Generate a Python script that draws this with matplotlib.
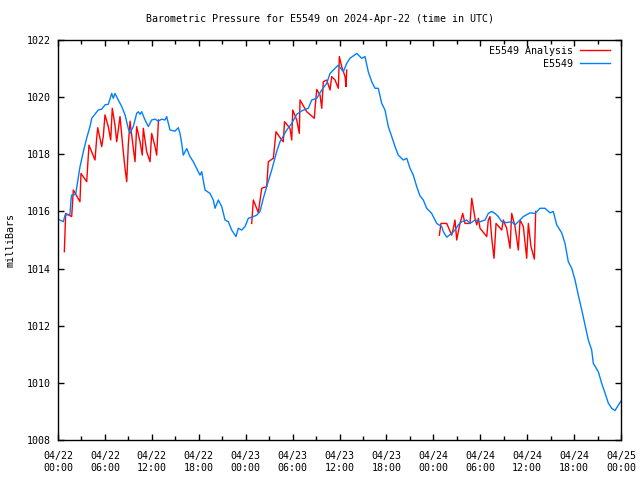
import numpy as np
import matplotlib
matplotlib.use("Agg")
import matplotlib.pyplot as plt
from matplotlib.ticker import MultipleLocator

# hours since 2024-04-22 00:00 UTC
obs_hours = [0.0, 0.68, 0.9, 1.53, 1.66, 1.75, 2.26, 2.81, 3.24, 3.67, 4.09, 4.31, 5.15, 5.59,
             6.01, 6.43, 6.87, 7.07, 7.29, 7.71, 8.15, 8.57, 8.99, 9.21, 9.63, 10.06, 10.27,
             10.49, 10.7, 11.13, 11.55, 11.98, 12.41, 12.83, 13.26, 13.68, 13.9, 14.32, 14.96,
             15.39, 15.6, 15.82, 16.02, 16.46, 16.88, 17.3, 17.74, 18.16, 18.38, 18.8, 19.44,
             19.86, 20.08, 20.5, 20.94, 21.36, 21.78, 22.21, 22.76, 23.06, 23.49, 23.92, 24.34,
             24.98, 25.41, 25.83, 26.26, 26.69, 27.33, 27.97, 28.39, 29.25, 29.89, 30.53, 31.17,
             32.01, 32.45, 33.09, 33.73, 34.36, 34.79, 35.43, 35.85, 36.49, 36.92, 37.34, 38.2,
             38.84, 39.26, 39.68, 40.12, 40.54, 40.96, 41.4, 41.82, 42.24, 42.68, 43.1, 43.52,
             44.16, 44.6, 45.02, 45.44, 45.87, 46.3, 46.72, 47.15, 47.79, 48.43, 49.07, 49.28,
             49.71, 50.35, 50.77, 51.19, 51.63, 52.27, 52.69, 53.33, 53.97, 54.61, 55.03, 55.47,
             55.89, 56.31, 56.75, 57.38, 58.02, 58.45, 59.09, 59.51, 60.36, 61.0, 61.64, 62.28,
             62.92, 63.34, 63.78, 64.42, 64.84, 65.26, 65.7, 66.12, 66.54, 66.98, 67.4, 67.82,
             68.25, 68.46, 69.1, 69.53, 69.96, 70.38, 70.81, 71.23, 71.66, 72.0]
obs_mb = [1015.73, 1015.64, 1015.87, 1015.9, 1016.4, 1016.57, 1016.6, 1017.56, 1018.09, 1018.57,
          1018.97, 1019.26, 1019.55, 1019.58, 1019.73, 1019.75, 1020.13, 1019.96, 1020.13,
          1019.9, 1019.67, 1019.38, 1018.9, 1018.73, 1018.97, 1019.43, 1019.49, 1019.4,
          1019.49, 1019.2, 1018.97, 1019.2, 1019.23, 1019.16, 1019.23, 1019.2, 1019.32,
          1018.85, 1018.81, 1018.93, 1018.73, 1018.38, 1017.97, 1018.2, 1017.92, 1017.74,
          1017.5, 1017.27, 1017.39, 1016.75, 1016.63, 1016.4, 1016.11, 1016.4, 1016.17,
          1015.7, 1015.64, 1015.35, 1015.12, 1015.41, 1015.35, 1015.47, 1015.76, 1015.82,
          1015.87, 1016.0, 1016.46, 1016.87, 1017.45, 1018.1, 1018.44, 1018.85, 1019.08,
          1019.4, 1019.52, 1019.61, 1019.9, 1019.96, 1020.25, 1020.48, 1020.83, 1021.01,
          1021.12, 1020.89, 1021.18, 1021.36, 1021.53, 1021.36, 1021.42, 1020.89, 1020.54,
          1020.31, 1020.31, 1019.78, 1019.55, 1018.97, 1018.62, 1018.27, 1017.97, 1017.8,
          1017.86, 1017.51, 1017.27, 1016.87, 1016.54, 1016.4, 1016.11, 1015.93, 1015.58,
          1015.47, 1015.29, 1015.1, 1015.23, 1015.35, 1015.53, 1015.64, 1015.7, 1015.58,
          1015.7, 1015.64, 1015.7, 1015.93, 1016.0, 1015.93, 1015.82, 1015.64, 1015.61,
          1015.64, 1015.53, 1015.7, 1015.82, 1015.95, 1015.93, 1016.11, 1016.11, 1015.95,
          1016.0, 1015.53, 1015.25, 1014.88, 1014.24, 1014.01, 1013.6, 1013.07, 1012.55,
          1012.02, 1011.5, 1011.15, 1010.68, 1010.39, 1009.98, 1009.64, 1009.29, 1009.11,
          1009.03, 1009.22, 1009.36]

# analysis series, None = gap
ana_hours = [0.81, 0.9, 0.98, 1.75, 1.96, 2.81, 2.94, 3.67, 3.96, 4.73, 4.95, 5.08, 5.59, 5.79,
             6.01, 6.43, 6.74, 6.94, 7.29, 7.51, 7.93, 8.35, 8.57, 8.79, 8.99, 9.21, 9.63, 9.85,
             10.06, 10.49, 10.78, 10.91, 11.34, 11.77, 11.98, 12.41, 12.62, 12.85, None,
             24.77, 24.98, 25.62, 26.05, 26.69, 26.9, 27.54, 27.88, 28.61, 28.81, 28.97, 29.67,
             29.89, 30.02, 30.53, 30.86, 30.95, 31.81, 32.78, 32.87, 33.09, 33.51, 33.73, 33.93,
             34.36, 34.79, 35.0, 35.43, 35.85, 35.98, 36.28, 36.71, 36.83, 36.92, None,
             48.77, 48.98, 49.71, 50.35, 50.56, 50.77, 50.99, 51.19, 51.41, 51.76, 52.05, 52.69,
             52.91, 53.33, 53.55, 53.76, 53.97, 54.83, 55.03, 55.25, 55.47, 55.76, 56.02, 56.75,
             56.95, 57.38, 57.81, 58.02, 58.45, 58.87, 59.09, 59.51, 59.94, 60.15, 60.49, 60.92,
             61.09]
ana_mb = [1014.59, 1015.29, 1015.93, 1015.82, 1016.75, 1016.34, 1017.33, 1017.04, 1018.32,
          1017.8, 1018.56, 1018.93, 1018.27, 1018.62, 1019.38, 1018.97, 1018.5, 1019.61,
          1019.02, 1018.44, 1019.32, 1018.09, 1017.51, 1017.04, 1018.32, 1019.16, 1018.21,
          1017.74, 1018.97, 1018.44, 1017.97, 1018.91, 1018.09, 1017.74, 1018.73, 1018.27,
          1017.97, 1019.2, None,
          1015.58, 1016.4, 1015.96, 1016.81, 1016.87, 1017.74, 1017.86, 1018.79, 1018.5,
          1018.44, 1019.14, 1018.91, 1018.5, 1019.55, 1019.2, 1018.73, 1019.9, 1019.49,
          1019.26, 1019.61, 1020.27, 1020.07, 1019.61, 1020.54, 1020.6, 1020.25, 1020.72,
          1020.6, 1020.31, 1021.42, 1021.07, 1020.72, 1020.37, 1020.95, None,
          1015.17, 1015.58, 1015.58, 1015.17, 1015.41, 1015.7, 1015.0, 1015.29, 1015.58,
          1015.93, 1015.58, 1015.58, 1016.46, 1015.76, 1015.53, 1015.76, 1015.41, 1015.12,
          1015.7, 1015.82, 1015.06, 1014.36, 1015.58, 1015.35, 1015.7, 1015.41, 1014.71,
          1015.93, 1015.47, 1014.65, 1015.7, 1015.47, 1014.36, 1015.58, 1014.77, 1014.33,
          1016.0]

tick_hours = list(range(0, 73, 6))
tick_labels = ["04/22\n00:00", "04/22\n06:00", "04/22\n12:00", "04/22\n18:00",
               "04/23\n00:00", "04/23\n06:00", "04/23\n12:00", "04/23\n18:00",
               "04/24\n00:00", "04/24\n06:00", "04/24\n12:00", "04/24\n18:00",
               "04/25\n00:00"]

plt.rcParams['font.family'] = ['DejaVu Sans Mono']
plt.rcParams['font.size'] = 7.2

fig = plt.figure(figsize=(6.4, 4.8), dpi=100)
ax = fig.add_axes([58/640, 40/480, 563/640, 400/480])

ah = np.array([np.nan if v is None else v for v in ana_hours], dtype=float)
am = np.array([np.nan if v is None else v for v in ana_mb], dtype=float)

ax.plot(ah, am, color='#ff0000', lw=1.0, label='E5549 Analysis')
ax.plot(obs_hours, obs_mb, color='#0080ff', lw=1.0, label='E5549')

ax.set_xlim(0, 72)
ax.set_ylim(1008, 1022)
ax.set_xticks(tick_hours)
ax.set_xticklabels(tick_labels, linespacing=1.25)
ax.xaxis.set_minor_locator(MultipleLocator(3))
ax.yaxis.set_major_locator(MultipleLocator(2))
ax.tick_params(which='both', direction='in', top=True, right=True, width=1, color='black')
ax.tick_params(axis='x', which='major', length=4, pad=8)
ax.tick_params(axis='x', which='minor', length=3)
ax.tick_params(axis='y', which='major', length=4, pad=5)
for s in ax.spines.values():
    s.set_linewidth(1.0)

ax.set_ylabel('milliBars', labelpad=8)
fig.text(0.5, 1 - 19/480, 'Barometric Pressure for E5549 on 2024-Apr-22 (time in UTC)',
         ha='center', va='center')

ax.legend(loc='upper right', bbox_to_anchor=(0.981, 0.985), frameon=False, markerfirst=False,
          handlelength=3.0, handletextpad=0.7, labelspacing=0.3, borderpad=0, borderaxespad=0)

fig.savefig('out.png', dpi=100)
